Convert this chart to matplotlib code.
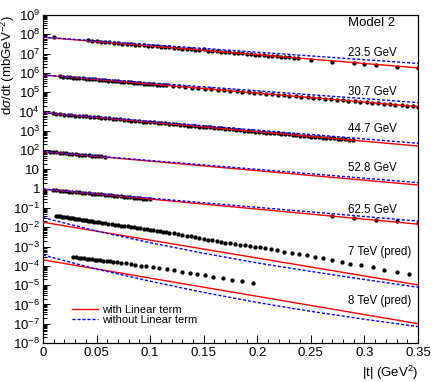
import numpy as np
import matplotlib
matplotlib.use("Agg")
import matplotlib.pyplot as plt
from matplotlib.ticker import LogLocator, FuncFormatter, MultipleLocator
from matplotlib.lines import Line2D

plt.rcParams['font.family'] = ['Liberation Sans', 'DejaVu Sans']
plt.rcParams['mathtext.fontset'] = 'custom'
plt.rcParams['mathtext.rm'] = 'Liberation Sans'
plt.rcParams['mathtext.it'] = 'Liberation Sans:italic'
plt.rcParams['mathtext.bf'] = 'Liberation Sans:bold'

# -------------------------------
# Data (log10 of dsigma/dt)
# -------------------------------

energy_labels = ["23.5 GeV", "30.7 GeV", "44.7 GeV", "52.8 GeV", "62.5 GeV",
                 "7 TeV (pred)", "8 TeV (pred)"]

t_235 = [0.0103, 0.042, 0.046, 0.050, 0.054, 0.058, 0.062, 0.066, 0.070, 0.074,
         0.078, 0.082, 0.086, 0.090, 0.094, 0.098, 0.102, 0.106, 0.110, 0.114,
         0.118, 0.122, 0.126, 0.130, 0.134, 0.138, 0.142, 0.146, 0.150, 0.154,
         0.158, 0.162, 0.166, 0.170, 0.174, 0.178, 0.182, 0.186, 0.190, 0.194,
         0.198, 0.202, 0.206, 0.210, 0.214, 0.218, 0.222, 0.226, 0.230, 0.234,
         0.238, 0.250, 0.270, 0.290, 0.300, 0.311, 0.330, 0.350]
lg_235 = [7.86, 7.69, 7.67, 7.64, 7.62, 7.61, 7.58, 7.57, 7.54, 7.52,
          7.50, 7.49, 7.47, 7.44, 7.43, 7.40, 7.40, 7.37, 7.36, 7.33,
          7.32, 7.30, 7.27, 7.26, 7.25, 7.22, 7.20, 7.19, 7.24, 7.15,
          7.13, 7.12, 7.09, 7.08, 7.07, 7.04, 7.03, 7.01, 6.99, 6.98,
          6.95, 6.94, 6.91, 6.90, 6.88, 6.86, 6.84, 6.82, 6.81, 6.79,
          6.77, 6.69, 6.59, 6.50, 6.46, 6.41, 6.32, 6.27]

t_307 = [0.016, 0.019, 0.022, 0.025, 0.028, 0.031, 0.034, 0.037, 0.040, 0.043,
         0.046, 0.049, 0.052, 0.055, 0.058, 0.061, 0.064, 0.067, 0.070, 0.073,
         0.076, 0.079, 0.082, 0.085, 0.088, 0.091, 0.094, 0.097, 0.100, 0.103,
         0.106, 0.109, 0.112, 0.115,
         0.121, 0.127, 0.133, 0.139, 0.145, 0.151, 0.157, 0.163, 0.169, 0.175,
         0.181, 0.186, 0.192, 0.197, 0.203, 0.208, 0.214, 0.219, 0.225, 0.230,
         0.236, 0.241, 0.247, 0.252, 0.258, 0.263, 0.269, 0.274, 0.280, 0.285,
         0.291, 0.296, 0.302, 0.307, 0.313, 0.318, 0.324, 0.329, 0.335, 0.340,
         0.345, 0.350]
lg_307 = [5.83, 5.80, 5.79, 5.78, 5.76, 5.75, 5.73, 5.72, 5.70, 5.69,
          5.68, 5.66, 5.65, 5.63, 5.62, 5.60, 5.59, 5.58, 5.56, 5.55,
          5.53, 5.52, 5.51, 5.49, 5.48, 5.46, 5.45, 5.44, 5.42, 5.41,
          5.39, 5.38, 5.37, 5.35,
          5.32, 5.30, 5.27, 5.24, 5.21, 5.18, 5.16, 5.13, 5.10, 5.07,
          5.04, 5.02, 4.99, 4.97, 4.94, 4.91, 4.89, 4.86, 4.84, 4.81,
          4.78, 4.76, 4.73, 4.71, 4.68, 4.66, 4.63, 4.61, 4.58, 4.55,
          4.53, 4.50, 4.47, 4.45, 4.42, 4.40, 4.37, 4.35, 4.32, 4.30,
          4.27, 4.25]

t_447 = [0.0090, 0.0125, 0.0160, 0.0195, 0.0230, 0.0265, 0.0300, 0.0335, 0.0370,
         0.0405, 0.0440, 0.0475, 0.0510, 0.0545, 0.0580, 0.0615, 0.0650, 0.0685,
         0.0720, 0.0755, 0.0790, 0.0825, 0.0860, 0.0895, 0.0930, 0.0965, 0.1000,
         0.1035, 0.1070, 0.1105, 0.1140, 0.1175, 0.1210, 0.1245, 0.1280, 0.1315,
         0.1350, 0.1385, 0.1420, 0.1455, 0.1490, 0.1525, 0.1560, 0.1595, 0.1630,
         0.1665, 0.1700, 0.1735, 0.1770, 0.1805, 0.1840, 0.1875, 0.1910, 0.1945,
         0.1980, 0.2015, 0.2050, 0.2085, 0.2120, 0.2155, 0.2190, 0.2225, 0.2260,
         0.2295, 0.2330, 0.2365, 0.2400, 0.2435, 0.2470, 0.2505, 0.2540, 0.2575,
         0.2610, 0.2645, 0.2680, 0.2715, 0.2750, 0.2785, 0.2820, 0.2855, 0.2890]
lg_447 = [3.90, 3.88, 3.86, 3.84, 3.83, 3.81, 3.79, 3.78, 3.76,
          3.74, 3.72, 3.71, 3.69, 3.67, 3.65, 3.64, 3.62, 3.60,
          3.59, 3.57, 3.55, 3.53, 3.52, 3.50, 3.48, 3.46, 3.45,
          3.43, 3.41, 3.40, 3.38, 3.36, 3.34, 3.33, 3.31, 3.29,
          3.27, 3.26, 3.24, 3.22, 3.20, 3.19, 3.17, 3.15, 3.14,
          3.12, 3.10, 3.08, 3.07, 3.05, 3.03, 3.01, 3.00, 2.98,
          2.96, 2.95, 2.93, 2.91, 2.89, 2.88, 2.86, 2.84, 2.82,
          2.81, 2.79, 2.77, 2.75, 2.74, 2.72, 2.70, 2.69, 2.67,
          2.65, 2.63, 2.62, 2.60, 2.58, 2.56, 2.55, 2.53, 2.51]

t_528 = [0.0065, 0.0095, 0.0125, 0.0155, 0.0185, 0.0215, 0.0245, 0.0275, 0.0305,
         0.0335, 0.0365, 0.0395, 0.0425, 0.0455, 0.0485, 0.0515, 0.0545, 0.0575]
lg_528 = [1.90, 1.89, 1.89, 1.86, 1.85, 1.83, 1.82, 1.82, 1.79,
          1.77, 1.76, 1.77, 1.73, 1.71, 1.70, 1.69, 1.67, 1.65]

t_625 = [0.0095, 0.0125, 0.0155, 0.0185, 0.0215, 0.0245, 0.0275, 0.0305, 0.0335,
         0.0365, 0.0395, 0.0425, 0.0455, 0.0485, 0.0515, 0.0545, 0.0575, 0.0605,
         0.0635, 0.0665, 0.0695, 0.0725, 0.0755, 0.0785, 0.0815, 0.0845, 0.0875,
         0.0905, 0.0935, 0.0965, 0.0995,
         0.270, 0.290, 0.3105, 0.330, 0.350]
lg_625 = [-0.06, -0.08, -0.10, -0.11, -0.13, -0.15, -0.16, -0.18, -0.19,
          -0.21, -0.22, -0.24, -0.26, -0.27, -0.29, -0.30, -0.32, -0.34,
          -0.35, -0.37, -0.38, -0.40, -0.42, -0.43, -0.45, -0.47, -0.48,
          -0.50, -0.52, -0.54, -0.56,
          -1.40, -1.53, -1.62, -1.67, -1.79]

t_7tev = [0.012, 0.014, 0.016, 0.018, 0.020, 0.022, 0.024, 0.026, 0.028, 0.030,
          0.032, 0.034, 0.036, 0.038, 0.040, 0.042, 0.044, 0.046, 0.048, 0.050,
          0.052, 0.055, 0.058, 0.061, 0.064, 0.067, 0.070, 0.073, 0.076, 0.079,
          0.082, 0.085, 0.088, 0.091, 0.094, 0.097, 0.100, 0.103, 0.106, 0.109,
          0.112, 0.115, 0.118, 0.122, 0.126, 0.130, 0.134, 0.138, 0.142, 0.146,
          0.150, 0.154, 0.158, 0.162, 0.166,
          0.170, 0.1745, 0.179, 0.184, 0.1885, 0.193, 0.198, 0.2025, 0.207, 0.213,
          0.218, 0.225, 0.232, 0.239, 0.246, 0.254, 0.261, 0.270, 0.279, 0.287,
          0.297, 0.308, 0.3185, 0.330, 0.342]
lg_7tev = [-1.41, -1.43, -1.44, -1.46, -1.48, -1.49, -1.51, -1.52, -1.54, -1.56,
           -1.57, -1.59, -1.61, -1.62, -1.64, -1.66, -1.67, -1.69, -1.71, -1.72,
           -1.74, -1.76, -1.79, -1.81, -1.84, -1.86, -1.89, -1.91, -1.93, -1.96,
           -1.98, -2.01, -2.03, -2.06, -2.08, -2.11, -2.13, -2.16, -2.18, -2.20,
           -2.23, -2.26, -2.28, -2.32, -2.36, -2.40, -2.44, -2.48, -2.52, -2.56,
           -2.60, -2.64, -2.68, -2.72, -2.76,
           -2.80, -2.83, -2.87, -2.90, -2.93, -2.97, -3.01, -3.04, -3.09, -3.14,
           -3.19, -3.26, -3.32, -3.38, -3.45, -3.54, -3.61, -3.69, -3.78, -3.89,
           -3.97, -4.07, -4.20, -4.30, -4.44]

t_8tev = [0.0283, 0.0308, 0.0333, 0.0358, 0.0383, 0.0407, 0.0432, 0.0457, 0.0482,
          0.0507, 0.0532, 0.0563, 0.0594, 0.0625, 0.0656, 0.0694, 0.0731, 0.0775,
          0.0818, 0.0862, 0.0911, 0.0961, 0.1023, 0.1086, 0.1154, 0.1223, 0.1297,
          0.1372, 0.1440, 0.1515, 0.1590, 0.1677, 0.1764, 0.1857, 0.1957]
lg_8tev = [-3.54, -3.56, -3.57, -3.59, -3.61, -3.63, -3.64, -3.66, -3.68,
           -3.69, -3.71, -3.73, -3.75, -3.76, -3.78, -3.81, -3.83, -3.87,
           -3.90, -3.94, -3.99, -4.02, -4.07, -4.12, -4.18, -4.23, -4.30,
           -4.35, -4.42, -4.49, -4.56, -4.63, -4.71, -4.80, -4.89]

# model curves: "with Linear term" (red) and "without Linear term" (blue)
t_line = [0.0, 0.35]
red_235 = [7.85, 6.26]
blue_235 = [7.85, 6.49]
red_307 = [5.89, 4.25]
blue_307 = [5.89, 4.46]
red_447 = [3.94, 2.21]
blue_447 = [3.94, 2.35]
red_528 = [1.92, 0.19]
blue_528 = [1.92, 0.31]
red_625 = [-0.02, -1.84]
blue_625 = [-0.02, -1.68]
red_7tev = [-1.74, -4.99]
red_8tev = [-3.69, -7.00]

t_curve = [0.0, 0.05, 0.10, 0.15, 0.20, 0.25, 0.30, 0.35]
blue_7tev = [-1.50, -2.20, -2.80, -3.35, -3.85, -4.29, -4.71, -5.11]
blue_8tev = [-3.44, -4.17, -4.80, -5.38, -5.90, -6.36, -6.77, -7.15]

# -------------------------------
# Figure
# -------------------------------

fig = plt.figure(figsize=(4.36, 3.82), dpi=100)
ax = fig.add_axes([0.0986, 0.1021, 0.8601, 0.8586])

data_sets = [(t_235, lg_235), (t_307, lg_307), (t_447, lg_447), (t_528, lg_528),
             (t_625, lg_625), (t_7tev, lg_7tev), (t_8tev, lg_8tev)]
for t, lg in data_sets:
    ax.plot(t, 10 ** np.array(lg), 'o', color='black', ms=3.1, mew=0, zorder=2)

red_lines = [(t_line, red_235), (t_line, red_307), (t_line, red_447),
             (t_line, red_528), (t_line, red_625), (t_line, red_7tev),
             (t_line, red_8tev)]
blue_lines = [(t_line, blue_235), (t_line, blue_307), (t_line, blue_447),
              (t_line, blue_528), (t_line, blue_625), (t_curve, blue_7tev),
              (t_curve, blue_8tev)]
dash = (0, (2.2, 1.4))
for t, lg in red_lines:
    ax.plot(t, 10 ** np.array(lg), '-', color='red', lw=1.0, zorder=3)
for t, lg in blue_lines:
    ax.plot(t, 10 ** np.array(lg), linestyle=dash, color='blue', lw=1.0, zorder=4)

ax.set_yscale('log')
ax.set_xlim(0, 0.35)
ax.set_ylim(1e-8, 1e9)

# axis ticks, ROOT-like
ax.xaxis.set_major_locator(MultipleLocator(0.05))
ax.xaxis.set_minor_locator(MultipleLocator(0.01))
ax.yaxis.set_major_locator(LogLocator(base=10, numticks=30))
ax.yaxis.set_minor_locator(LogLocator(base=10, subs=np.arange(2, 10), numticks=30))


def fmt_x(v, pos):
    if abs(v) < 1e-9:
        return '0'
    return ('%.2f' % v).rstrip('0')


def fmt_y(v, pos):
    e = int(round(np.log10(v)))
    if e == 0:
        return '1'
    if e == 1:
        return '10'
    return r'$10^{%d}$' % e


ax.xaxis.set_major_formatter(FuncFormatter(fmt_x))
ax.yaxis.set_major_formatter(FuncFormatter(fmt_y))
ax.tick_params(which='both', direction='in', top=False, right=False, width=0.7)
ax.tick_params(axis='x', which='major', length=6, labelsize=9.5, pad=3)
ax.tick_params(axis='x', which='minor', length=3)
ax.tick_params(axis='y', which='major', length=5, labelsize=9.5, pad=2)
ax.tick_params(axis='y', which='minor', length=3)
for s in ax.spines.values():
    s.set_linewidth(0.9)

ax.set_ylabel(r'd$\sigma$/dt (mbGeV$^{-2}$)', fontsize=9.5, loc='top')
ax.yaxis.set_label_coords(-0.068, 1.0)
ax.set_xlabel(r'|t| (GeV$^{2}$)', fontsize=9.5, loc='right')
ax.xaxis.set_label_coords(1.0, -0.064)

# labels next to each curve
ax.text(0.2847, 10 ** 8.59, 'Model 2', fontsize=9.5, va='center')
label_pos = [7.03, 5.01, 3.09, 1.07, -1.12, -3.26, -5.82]
for lab, lp in zip(energy_labels, label_pos):
    ax.text(0.2847, 10 ** lp, lab, fontsize=8.3, va='center')

handles = [Line2D([], [], color='red', lw=1.0),
           Line2D([], [], color='blue', lw=1.0, linestyle=dash)]
ax.legend(handles, ['with Linear term', 'without Linear term'],
          loc='upper left', bbox_to_anchor=(0.0765, 0.117), frameon=False,
          fontsize=8, handlelength=2.35, handletextpad=0.42,
          labelspacing=0.0, borderpad=0, borderaxespad=0)

fig.savefig('out.png', dpi=100)
